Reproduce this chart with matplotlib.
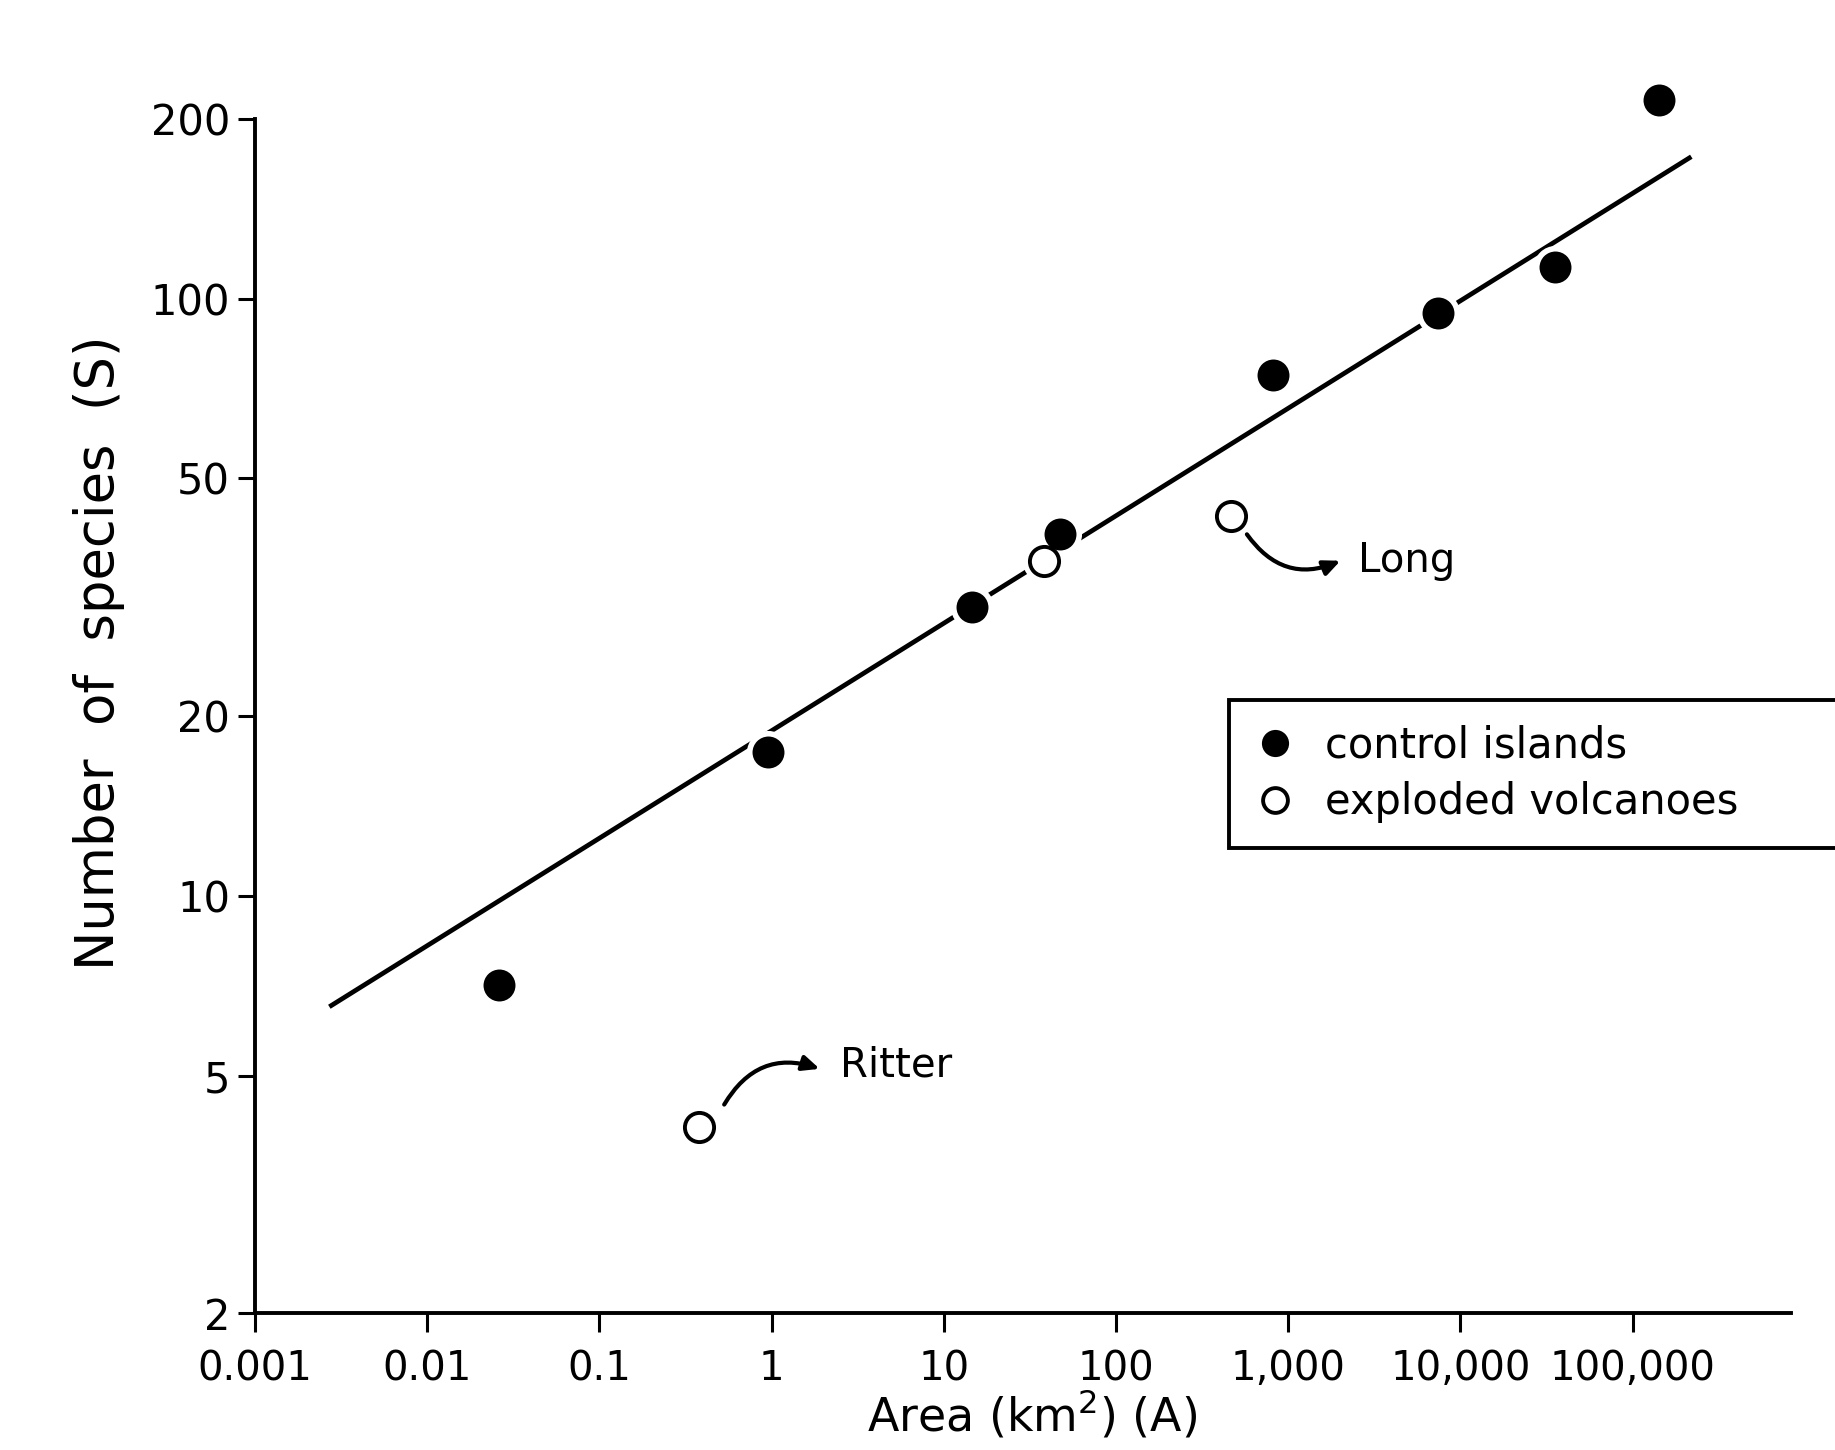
import matplotlib
matplotlib.use("Agg")
import matplotlib.pyplot as plt
import numpy as np

# ---- data ----
control_area = [0.026, 0.95, 14.6, 47, 810, 7400, 35600, 143000]
control_species = [7.1, 17.4, 30.4, 40.4, 74.5, 94.6, 113, 215]

exploded_area = [0.38, 38, 465]
exploded_species = [4.1, 36.4, 43.2]

fit_c = 18.9
fit_z = 0.18
fit_area_range = [0.0027, 219000]

x_ticks = [0.001, 0.01, 0.1, 1, 10, 100, 1000, 10000, 100000]
x_tick_labels = ["0.001", "0.01", "0.1", "1", "10", "100", "1,000", "10,000", "100,000"]
y_ticks = [2, 5, 10, 20, 50, 100, 200]
y_tick_labels = ["2", "5", "10", "20", "50", "100", "200"]

plt.rcParams['font.family'] = ['DejaVu Sans']

fig = plt.figure(figsize=(18.35, 14.5), dpi=100)
ax = fig.add_axes([0.139, 0.0944, 0.837, 0.8236])
ax.set_xscale('log')
ax.set_yscale('log')
ax.set_xlim(0.001, 8.3e5)
ax.set_ylim(2, 200)

# fit line
fa = np.logspace(np.log10(fit_area_range[0]), np.log10(fit_area_range[1]), 200)
ax.plot(fa, fit_c * fa ** fit_z, color='black', lw=3.4, zorder=2, solid_capstyle='butt')

# white halos around points (gaps in the line)
ax.plot(control_area, control_species, 'o', ms=31, color='white', zorder=3,
        clip_on=False, markeredgewidth=0)
ax.plot(exploded_area, exploded_species, 'o', ms=31, color='white', zorder=3,
        clip_on=False, markeredgewidth=0)

ax.plot(control_area, control_species, 'o', ms=23, color='black', zorder=4,
        clip_on=False, markeredgewidth=0, label='control islands')
ax.plot(exploded_area, exploded_species, 'o', ms=21, markerfacecolor='white',
        markeredgecolor='black', markeredgewidth=2.8, zorder=4, clip_on=False,
        label='exploded volcanoes')

# annotations
arrow_style = '-|>,head_length=1.0,head_width=0.45'
ax.annotate("", xy=(1.9, 5.13), xytext=(0.53, 4.47),
            arrowprops=dict(arrowstyle=arrow_style, color='black',
                            lw=3, connectionstyle='arc3,rad=-0.4', shrinkA=0, shrinkB=0))
ax.text(2.48, 5.2, "Ritter", fontsize=29, va='center', ha='left')

ax.annotate("", xy=(2010, 36.4), xytext=(575, 40.3),
            arrowprops=dict(arrowstyle=arrow_style, color='black',
                            lw=3, connectionstyle='arc3,rad=0.4', shrinkA=0, shrinkB=0))
ax.text(2540, 36.4, "Long", fontsize=29, va='center', ha='left')

# axes styling
for s in ['top', 'right']:
    ax.spines[s].set_visible(False)
for s in ['left', 'bottom']:
    ax.spines[s].set_linewidth(2.8)

ax.xaxis.set_minor_locator(matplotlib.ticker.NullLocator())
ax.yaxis.set_minor_locator(matplotlib.ticker.NullLocator())
ax.set_xticks(x_ticks)
ax.set_xticklabels(x_tick_labels)
ax.set_yticks(y_ticks)
ax.set_yticklabels(y_tick_labels)
ax.tick_params(axis='x', direction='out', length=14, width=2.2, pad=12, labelsize=29)
ax.tick_params(axis='y', direction='out', length=12, width=2.2, pad=6, labelsize=30)

ax.set_xlabel("Area (km$^2$) (A)", fontsize=33)
ax.set_ylabel("Number  of  species  (S)", fontsize=38)
ax.xaxis.set_label_coords(0.506, -0.063)
ax.yaxis.set_label_coords(-0.085, 0.553)

leg = ax.legend(loc='lower left', bbox_to_anchor=(0.670, 0.415, 0.6, 0.11),
                bbox_transform=fig.transFigure, mode='expand', fontsize=30,
                frameon=True, fancybox=False, framealpha=1.0, borderpad=0.6,
                handletextpad=0.7, handlelength=1.0, markerscale=0.85,
                labelspacing=0.35, borderaxespad=0)
leg.get_frame().set_edgecolor('black')
leg.get_frame().set_linewidth(2.8)

fig.savefig("out.png", dpi=100)
